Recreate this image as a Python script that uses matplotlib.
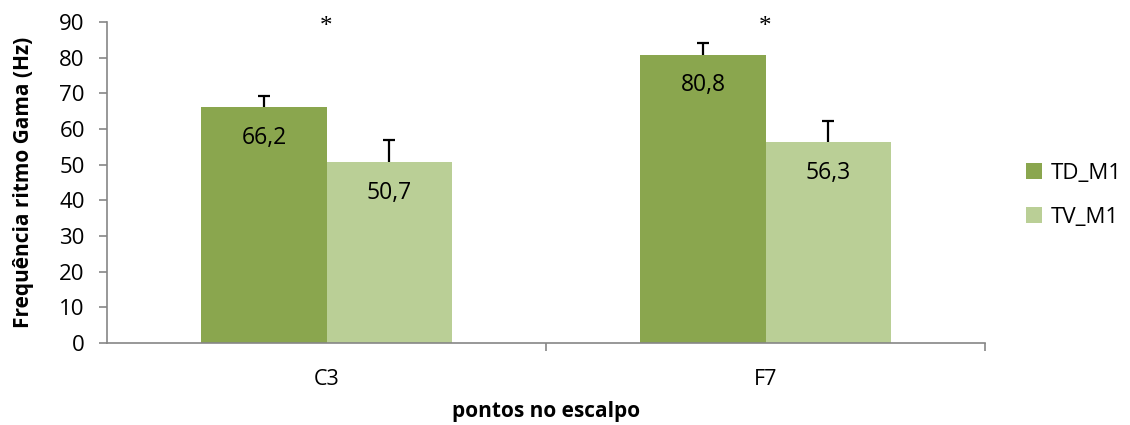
import matplotlib.pyplot as plt
import numpy as np

plt.rcParams['font.family'] = ['Open Sans', 'DejaVu Sans']

pontos = ['C3', 'F7']
td_m1 = [66.2, 80.8]
tv_m1 = [50.7, 56.3]
td_err = [3.1, 3.3]
tv_err = [6.2, 5.9]
signif = ['*', '*']

cor_td = '#8aa64e'
cor_tv = '#bacf96'
cinza = '#868686'

fig = plt.figure(figsize=(11.3, 4.25), dpi=100)
ax = fig.add_axes([0.0947, 0.193, 0.777, 0.755])

x = np.arange(len(pontos))
w = 0.285

b1 = ax.bar(x - w / 2, td_m1, w, color=cor_td, label='TD_M1', zorder=2)
b2 = ax.bar(x + w / 2, tv_m1, w, color=cor_tv, label='TV_M1', zorder=2)

# upward error bars only, cap drawn at the top end
for xs, vals, errs in [(x - w / 2, td_m1, td_err), (x + w / 2, tv_m1, tv_err)]:
    topo = np.array(vals) + np.array(errs)
    ax.errorbar(xs, vals, yerr=[np.zeros(len(xs)), errs], fmt='none',
                ecolor='black', elinewidth=1.6, capsize=0, zorder=3)
    ax.plot(xs, topo, ls='none', marker='_', ms=9, mew=1.6, color='black', zorder=3)

for bars, vals in [(b1, td_m1), (b2, tv_m1)]:
    for b, v in zip(bars, vals):
        ax.annotate(f'{v:.1f}'.replace('.', ','),
                    (b.get_x() + b.get_width() / 2, v),
                    xytext=(0, -22), textcoords='offset points',
                    ha='center', va='center', fontsize=16.5, zorder=4)

for xi, s in zip(x, signif):
    ax.text(xi, 88.6, s, ha='center', va='center', fontsize=18,
            family='Liberation Serif')

ax.set_ylim(0, 90)
ax.set_xlim(-0.5, 1.5)
ax.set_yticks(np.arange(0, 91, 10))
ax.set_xticks(x)
ax.set_xticklabels(pontos)
ax.set_xticks([0.5, 1.5], minor=True)
ax.tick_params(axis='x', which='major', length=0, pad=19, labelsize=15.5)
ax.tick_params(axis='x', which='minor', length=6, color=cinza, width=1.2)
ax.tick_params(axis='y', length=6, color=cinza, width=1.2, labelsize=16, pad=10)

for s in ['top', 'right']:
    ax.spines[s].set_visible(False)
for s in ['left', 'bottom']:
    ax.spines[s].set_color(cinza)
    ax.spines[s].set_linewidth(1.2)

ax.set_ylabel('Frequência ritmo Gama (Hz)', fontsize=15, fontweight='bold', labelpad=18)
ax.set_xlabel('pontos no escalpo', fontsize=15, fontweight='bold', labelpad=8)

ax.legend(loc='center left', bbox_to_anchor=(1.024, 0.46), frameon=False,
          fontsize=16, handlelength=0.7, handleheight=0.7, labelspacing=1.05,
          handletextpad=0.4)

fig.savefig('out.png', dpi=100)
